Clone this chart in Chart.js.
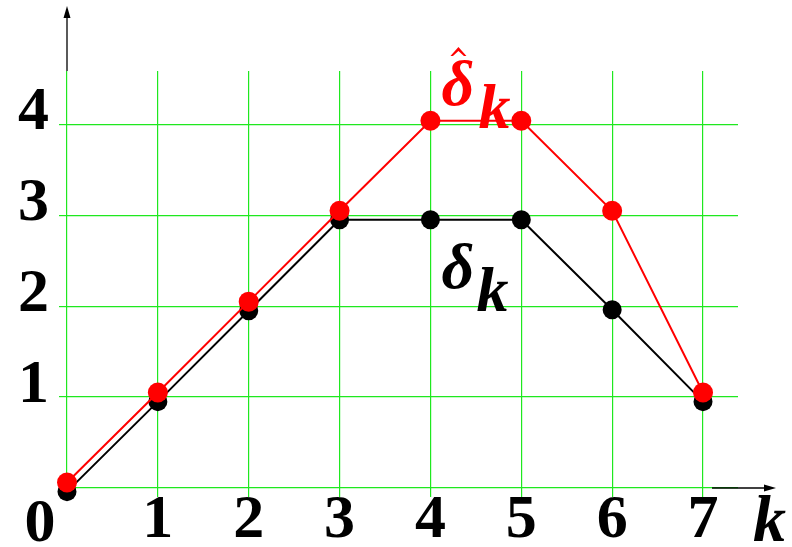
<!DOCTYPE html>
<html lang="en">
<head>
  <meta charset="UTF-8">
  <title>delta_k</title>
  <script src="https://cdn.jsdelivr.net/npm/chart.js"></script>
  <style>
    body {
      margin: 0;
      background: #ffffff;
    }
    #wrap {
      width: 792px;
      height: 547px;
    }
  </style>
</head>
<body>
  <div id="wrap">
    <canvas id="chart" width="792" height="547"></canvas>
  </div>

  <script>
    // k = 0..7, the two sequences (slightly offset so both stay visible)
    const kValues = [0, 1, 2, 3, 4, 5, 6, 7];
    const deltaValues = [-0.04, 0.95, 1.95, 2.95, 2.95, 2.95, 1.96, 0.95];
    const deltaHatValues = [0.06, 1.05, 2.05, 3.05, 4.04, 4.04, 3.05, 1.05];
    const xTickLabels = ['0', '1', '2', '3', '4', '5', '6', '7'];
    const yTickLabels = ['0', '1', '2', '3', '4'];

    const gridGreen = '#1fe81f';
    const serif = '"Liberation Serif", "Times New Roman", serif';
    const tickFont = { family: serif, size: 62, weight: 'bold' };

    function points(ys) {
      return kValues.map((k, i) => ({ x: k, y: ys[i] }));
    }

    // arrows, the origin "0", the axis name and the two series names
    const decorations = {
      id: 'decorations',
      afterDraw(chart) {
        const ctx = chart.ctx;
        const xs = chart.scales.x;
        const ys = chart.scales.y;
        const area = chart.chartArea;
        const x0 = xs.getPixelForValue(0);
        const y0 = ys.getPixelForValue(0);

        ctx.save();
        ctx.strokeStyle = '#000';
        ctx.fillStyle = '#000';
        ctx.lineWidth = 1.3;

        // vertical axis arrow
        ctx.beginPath();
        ctx.moveTo(x0, area.top);
        ctx.lineTo(x0, 16);
        ctx.stroke();
        ctx.beginPath();
        ctx.moveTo(x0, 6);
        ctx.lineTo(x0 - 3.5, 18);
        ctx.lineTo(x0 + 3.5, 18);
        ctx.closePath();
        ctx.fill();

        // horizontal axis arrow
        const xa = xs.getPixelForValue(7) + 9;
        ctx.beginPath();
        ctx.moveTo(xa, y0);
        ctx.lineTo(766, y0);
        ctx.stroke();
        ctx.beginPath();
        ctx.moveTo(776, y0);
        ctx.lineTo(764, y0 - 3.5);
        ctx.lineTo(764, y0 + 3.5);
        ctx.closePath();
        ctx.fill();

        // origin label
        ctx.font = 'bold 62px ' + serif;
        ctx.textAlign = 'center';
        ctx.textBaseline = 'alphabetic';
        ctx.fillText(xTickLabels[0], x0 - 27, 541);

        // axis name k
        ctx.font = 'italic bold 66px ' + serif;
        ctx.textAlign = 'left';
        ctx.fillText('k', 753, 541);

        // series names
        const sx = xs.getPixelForValue(4) + 11;
        ctx.fillStyle = '#ff0000';
        ctx.font = 'italic bold 64px ' + serif;
        ctx.fillText('δ', sx, 105);
        ctx.fillText('k', sx + 37, 128);

        // hat over the red delta
        ctx.beginPath();
        ctx.moveTo(sx + 9, 56);
        ctx.lineTo(sx + 17, 47);
        ctx.lineTo(sx + 25, 56);
        ctx.lineTo(sx + 22.5, 56);
        ctx.lineTo(sx + 17, 51);
        ctx.lineTo(sx + 11.5, 56);
        ctx.closePath();
        ctx.fill();

        ctx.fillStyle = '#000';
        ctx.font = 'italic bold 64px ' + serif;
        ctx.fillText('δ', sx, 288);
        ctx.fillText('k', sx + 35, 311);
        ctx.restore();
      }
    };

    const ctx = document.getElementById('chart').getContext('2d');
    new Chart(ctx, {
      type: 'line',
      data: {
        datasets: [
          {
            data: points(deltaHatValues),
            borderColor: '#ff0000',
            backgroundColor: '#ff0000',
            borderWidth: 2,
            pointRadius: 10,
            pointBorderWidth: 0,
            pointBackgroundColor: '#ff0000',
            tension: 0,
            clip: false,
            order: 1
          },
          {
            data: points(deltaValues),
            borderColor: '#000000',
            backgroundColor: '#000000',
            borderWidth: 2,
            pointRadius: 9.5,
            pointBorderWidth: 0,
            pointBackgroundColor: '#000000',
            tension: 0,
            clip: false,
            order: 2
          }
        ]
      },
      options: {
        responsive: false,
        animation: false,
        layout: { padding: { top: 71, right: 54, bottom: 0, left: 0 } },
        plugins: {
          legend: { display: false },
          tooltip: { enabled: false }
        },
        scales: {
          x: {
            type: 'linear',
            min: 0,
            max: 7.385,
            border: { display: false },
            grid: { color: gridGreen, lineWidth: 1.2, tickLength: 9 },
            ticks: {
              stepSize: 1,
              includeBounds: false,
              maxRotation: 0,
              autoSkip: false,
              color: '#000',
              font: tickFont,
              padding: -13,
              callback: (v, i) => (v === 0 ? '' : xTickLabels[i])
            },
            afterFit: s => { s.height = 59; }
          },
          y: {
            type: 'linear',
            min: 0,
            max: 4.587,
            border: { display: false },
            grid: { color: gridGreen, lineWidth: 1.2, tickLength: 8 },
            ticks: {
              stepSize: 1,
              includeBounds: false,
              autoSkip: false,
              color: '#000',
              font: tickFont,
              padding: 10,
              labelOffset: -11,
              callback: (v, i) => (v === 0 ? '' : yTickLabels[i])
            },
            afterFit: s => { s.width = 67; }
          }
        }
      },
      plugins: [decorations]
    });
  </script>
</body>
</html>
